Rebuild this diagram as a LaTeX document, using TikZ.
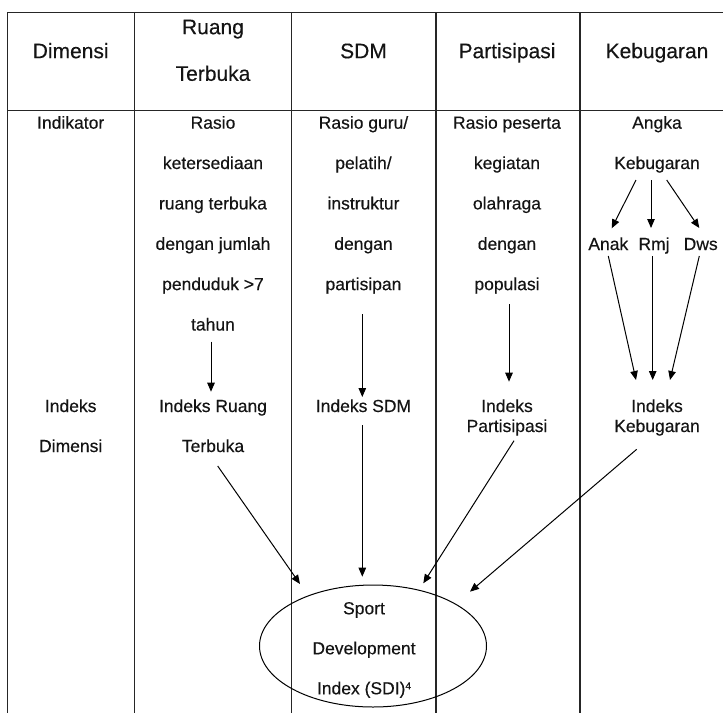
\documentclass[tikz,border=0pt]{standalone}
\usepackage{fontspec}
\setmainfont{Liberation Sans}[FakeBold=0.35]
\usetikzlibrary{arrows.meta,shapes.geometric}
\tikzset{
  hdr/.style={anchor=base,inner sep=0pt,font=\fontsize{21}{24}\selectfont,text=black!92},
  txt/.style={anchor=base,inner sep=0pt,font=\fontsize{17.5}{20}\selectfont,text=black!92},
  arr/.style={line width=1pt,-{Triangle[length=9pt,width=7.5pt]}},
  grid/.style={line width=1.2pt,black!85},
  sdi/.style={ellipse,draw,line width=1pt,minimum width=227pt,minimum height=122pt,inner sep=0pt}
}
\begin{document}
\begin{tikzpicture}[x=1pt,y=-1pt]
\useasboundingbox (0,0) rectangle (723,713);
% table lines
\draw[grid] (7.3,12.7) -- (723,12.7);
\draw[grid] (7.3,110.7) -- (723,110.7);
\foreach \xx in {7.3,134.3,291.7,436,580} \draw[grid] (\xx,12.7) -- (\xx,713);
% header
\node[hdr] (hD) at (70.7,58.2) {Dimensi};
\node[hdr] (hR1) at (213,34.2) {Ruang};
\node[hdr] (hR2) at (213,80.8) {Terbuka};
\node[hdr] (hS) at (363.5,58.2) {SDM};
\node[hdr] (hP) at (507,58.2) {Partisipasi};
\node[hdr] (hK) at (657,58.2) {Kebugaran};
% column 1
\node[txt] (ind) at (70.7,128.7) {Indikator};
\node[txt] (id1) at (70.7,412) {Indeks};
\node[txt] (id2) at (70.7,452) {Dimensi};
% column 2
\node[txt] (a1) at (213,128.7) {Rasio};
\node[txt] (a2) at (213,169.0) {ketersediaan};
\node[txt] (a3) at (213,209.4) {ruang terbuka};
\node[txt] (a4) at (213,249.8) {dengan jumlah};
\node[txt] (a5) at (213,290.1) {penduduk >7};
\node[txt] (a6) at (213,330.5) {tahun};
\node[txt] (ir1) at (213,412) {Indeks Ruang};
\node[txt] (ir2) at (213,452) {Terbuka};
% column 3
\node[txt] (b1) at (363.5,128.7) {Rasio guru/};
\node[txt] (b2) at (363.5,169.0) {pelatih/};
\node[txt] (b3) at (363.5,209.4) {instruktur};
\node[txt] (b4) at (363.5,249.8) {dengan};
\node[txt] (b5) at (363.5,290.1) {partisipan};
\node[txt] (is) at (363.5,412) {Indeks SDM};
% column 4
\node[txt] (c1) at (507,128.7) {Rasio peserta};
\node[txt] (c2) at (507,169.0) {kegiatan};
\node[txt] (c3) at (507,209.4) {olahraga};
\node[txt] (c4) at (507,249.8) {dengan};
\node[txt] (c5) at (507,290.1) {populasi};
\node[txt] (ip1) at (507,412) {Indeks};
\node[txt] (ip2) at (507,432) {Partisipasi};
% column 5
\node[txt] (d1) at (657,128.7) {Angka};
\node[txt] (d2) at (657,169.0) {Kebugaran};
\node[txt] (anak) at (608.3,250) {Anak};
\node[txt] (rmj) at (654,250) {Rmj};
\node[txt] (dws) at (700.7,250) {Dws};
\node[txt] (ik1) at (657,412) {Indeks};
\node[txt] (ik2) at (657,432) {Kebugaran};
% SDI
\node[sdi] (sdi) at (373,646) {};
\node[txt] (s1) at (364,614.3) {Sport};
\node[txt] (s2) at (364,654.3) {Development};
\node[txt] (s3) at (364,694.3) {Index (SDI)\raisebox{5pt}{\fontsize{10}{10}\selectfont 4}};
% arrows
\draw[arr] ([xshift=-2pt,yshift=-11.2pt]a6.base) -- ([xshift=-2pt,yshift=20.3pt]ir1.base);
\draw[arr] ([xshift=-1.2pt,yshift=-24pt]b5.base) -- ([xshift=-1.2pt,yshift=15pt]is.base);
\draw[arr] ([xshift=2pt,yshift=-14pt]c5.base) -- ([xshift=2pt,yshift=30.3pt]ip1.base);
\draw[arr] ([xshift=-21pt,yshift=-11pt]d2.base) -- ([xshift=3.4pt,yshift=21.7pt]anak.base);
\draw[arr] ([xshift=-6pt,yshift=-11pt]d2.base) -- ([xshift=-3pt,yshift=22pt]rmj.base);
\draw[arr] ([xshift=9.7pt,yshift=-11pt]d2.base) -- ([xshift=-1.4pt,yshift=22pt]dws.base);
\draw[arr] ([yshift=-6pt]anak.base) -- ([xshift=-21pt,yshift=32pt]ik1.base);
\draw[arr] ([xshift=-1.3pt,yshift=-6pt]rmj.base) -- ([xshift=-4.3pt,yshift=32pt]ik1.base);
\draw[arr] ([xshift=-1.4pt,yshift=-6pt]dws.base) -- ([xshift=13pt,yshift=32pt]ik1.base);
\draw[arr] ([xshift=4.7pt,yshift=-14pt]ir2.base) -- ([xshift=-73pt,yshift=62pt]sdi.center);
\draw[arr] ([xshift=-1.2pt,yshift=-13pt]is.base) -- ([xshift=-10.7pt,yshift=69.3pt]sdi.center);
\draw[arr] ([xshift=7pt,yshift=-8.7pt]ip2.base) -- ([xshift=50.3pt,yshift=62.7pt]sdi.center);
\draw[arr] ([xshift=-20.3pt,yshift=-17.3pt]ik2.base) -- ([xshift=97pt,yshift=54.3pt]sdi.center);
\end{tikzpicture}
\end{document}
